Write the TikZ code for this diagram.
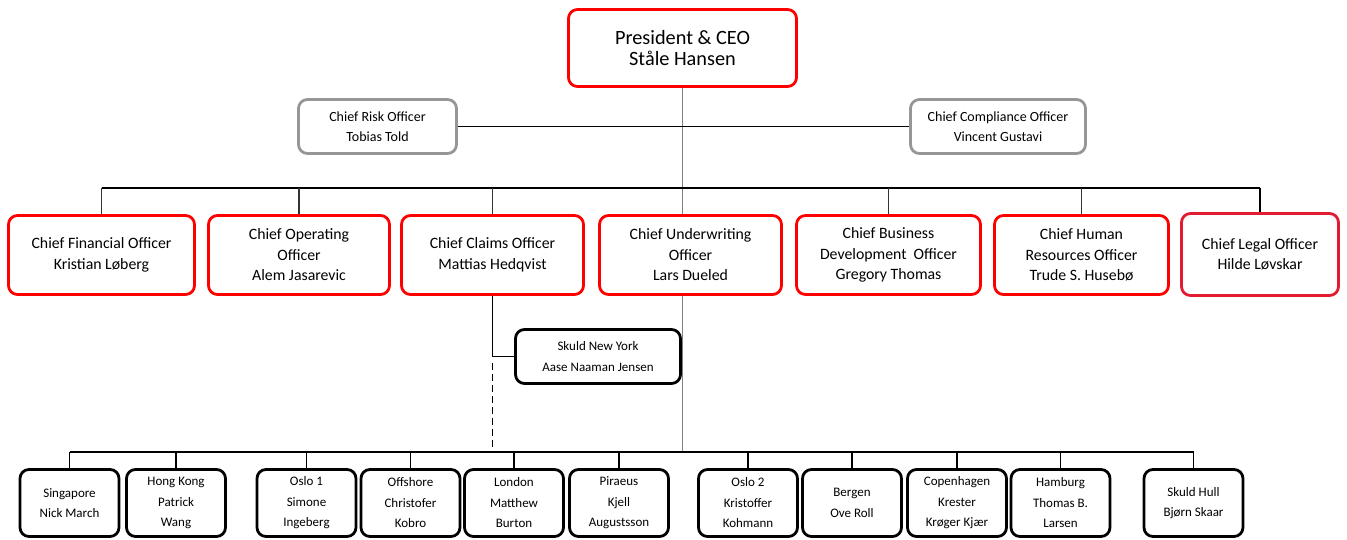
\documentclass[tikz,border=0pt]{standalone}
\usepackage{fontspec}
\setmainfont{Carlito}
\usetikzlibrary{calc}
\definecolor{ceoRed}{RGB}{255,0,0}
\definecolor{legalRed}{RGB}{226,28,48}
\definecolor{staffGray}{RGB}{150,150,150}
\newcommand{\fs}[2]{\fontsize{#1}{#2}\selectfont}

\begin{document}
\begin{tikzpicture}[x=1pt,y=-1pt,
  box/.style={draw,line width=2.8pt,rounded corners=9pt,align=center,inner sep=0pt,fill=white},
  execbox/.style={box,draw=ceoRed,minimum height=79pt,font=\fs{15.8}{20.5}},
  staffbox/.style={box,draw=staffGray,minimum height=54pt,font=\fs{14}{20}},
  officebox/.style={box,draw=black,minimum width=99pt,minimum height=67pt,font=\fs{13}{20.5}},
  link/.style={line width=1.5pt,black!80},
  graylink/.style={line width=1.4pt,gray}]
  % page: 1347 x 540, coordinates in px from the top left
  \useasboundingbox (0,0) rectangle (1347,540);

  % top
  \node[execbox,font=\fs{20.3}{21},minimum width=228pt,minimum height=77pt] (ceo) at (682.5,48) {President \& CEO\\Ståle Hansen};
  \node[staffbox,minimum width=158pt] (cro) at (377.5,126.5) {Chief Risk Officer\\Tobias Told};
  \node[staffbox,minimum width=175pt] (cco) at (998,126.5) {Chief Compliance Officer\\Vincent Gustavi};

  % executive row
  \node[execbox,minimum width=186pt] (cfo) at (101.5,255) {Chief Financial Officer\\Kristian Løberg};
  \node[execbox,minimum width=181pt] (coo) at (299,255) {Chief Operating\\Officer\\Alem Jasarevic};
  \node[execbox,minimum width=182pt] (claims) at (492.5,255) {Chief Claims Officer\\Mattias Hedqvist};
  \node[execbox,minimum width=182pt] (cuo) at (690.5,255) {Chief Underwriting\\Officer\\Lars Dueled};
  \node[execbox,minimum width=184pt] (cbdo) at (888.5,255) {Chief Business\\Development\ \ Officer\\Gregory Thomas};
  \node[execbox,minimum width=174pt] (chro) at (1081.5,255) {Chief Human\\Resources Officer\\Trude S. Husebø};
  \node[execbox,draw=legalRed,minimum width=157pt,minimum height=82pt] (clo) at (1260,254.5) {Chief Legal Officer\\Hilde Løvskar};

  % New York under claims
  \node[officebox,minimum width=165pt,minimum height=54pt] (ny) at (598,356.5) {Skuld New York\\Aase Naaman Jensen};

  % offices
  \node[officebox] (sing) at (69.5,503) {Singapore\\Nick March};
  \node[officebox] (hk) at (176,503) {Hong Kong\\Patrick\\Wang};
  \node[officebox] (oslo1) at (306.5,503) {Oslo 1\\Simone\\Ingeberg};
  \node[officebox] (offsh) at (410.5,503) {Offshore\\Christofer\\Kobro};
  \node[officebox] (lond) at (514,503) {London\\Matthew\\Burton};
  \node[officebox] (pir) at (619,503) {Piraeus\\Kjell\\Augustsson};
  \node[officebox] (oslo2) at (748,503) {Oslo 2\\Kristoffer\\Kohmann};
  \node[officebox] (berg) at (852,503) {Bergen\\Ove Roll};
  \node[officebox] (cph) at (957,503) {Copenhagen\\Krester\\Krøger Kjær};
  \node[officebox] (hamb) at (1060.5,503) {Hamburg\\Thomas B.\\Larsen};
  \node[officebox] (hull) at (1193.5,503) {Skuld Hull\\Bjørn Skaar};

  % bus levels
  \coordinate (topbus) at (0,188);
  \coordinate (lowbus) at (0,452);

  % CEO line and staff
  \draw[graylink] (ceo.south) -- (ceo.south |- cuo.north);
  \draw[link,black] (cro.east) -- (cco.west);

  % executive bus and drops
  \draw[link,line width=1.8pt,black] (cfo.north |- topbus) -- (clo.north |- topbus);
  \draw[link] (cfo.north |- topbus) -- (cfo.north);
  \draw[link] (coo.north |- topbus) -- (coo.north);
  \draw[link] (claims.north |- topbus) -- (claims.north);
  \draw[link] (cbdo.north |- topbus) -- (cbdo.north);
  \draw[link] (chro.north |- topbus) -- (chro.north);
  \draw[link,black] (clo.north |- topbus) -- (clo.north);

  % claims to New York, dashed to offices
  \draw[link,black] (claims.south) |- (ny.west);
  \draw[link,black,dash pattern=on 7pt off 4pt] ($(claims.south |- ny.west)+(0,6)$) -- (claims.south |- lowbus);
  \draw[graylink] (cuo.south -| ceo.south) -- (ceo.south |- lowbus);

  % office bus and drops
  \draw[link,line width=1.7pt,black] (sing.north |- lowbus) -- (hull.north |- lowbus);
  \draw[link,black] (sing.north |- lowbus) -- (sing.north);
  \draw[link,black] (hk.north |- lowbus) -- (hk.north);
  \draw[link,black] (oslo1.north |- lowbus) -- (oslo1.north);
  \draw[link,black] (offsh.north |- lowbus) -- (offsh.north);
  \draw[link,black] (lond.north |- lowbus) -- (lond.north);
  \draw[link,black] (pir.north |- lowbus) -- (pir.north);
  \draw[link,black] (oslo2.north |- lowbus) -- (oslo2.north);
  \draw[link,black] (berg.north |- lowbus) -- (berg.north);
  \draw[link,black] (cph.north |- lowbus) -- (cph.north);
  \draw[link,black] (hamb.north |- lowbus) -- (hamb.north);
  \draw[link,black] (hull.north |- lowbus) -- (hull.north);
\end{tikzpicture}
\end{document}
